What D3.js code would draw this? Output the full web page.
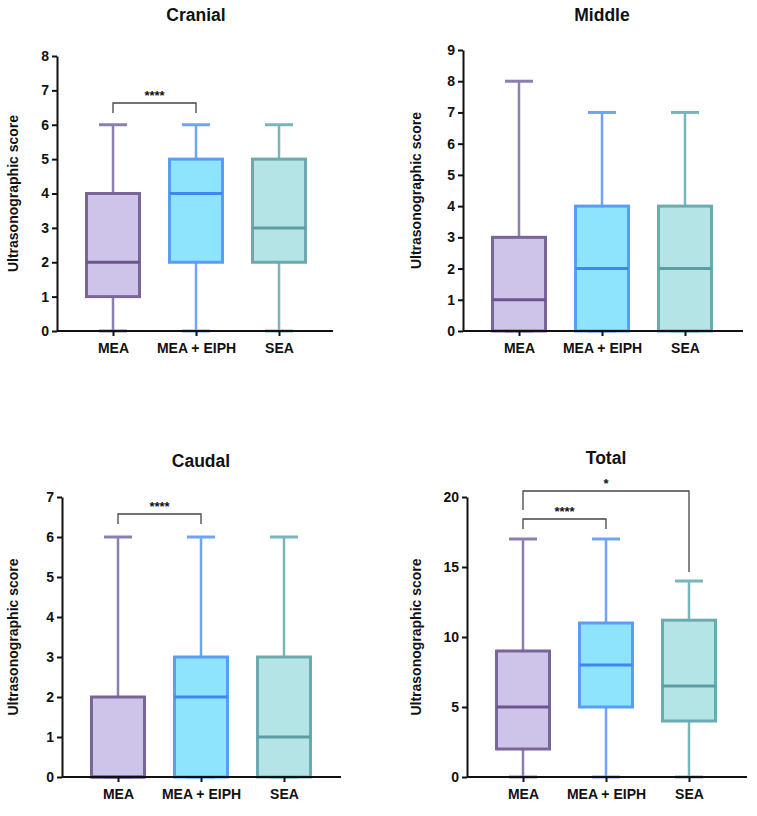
<!DOCTYPE html>
<html><head><meta charset="utf-8">
<script src="https://cdn.jsdelivr.net/npm/d3@7"></script>
<style>body{margin:0;background:#fff}svg{display:block}text{font-family:"Liberation Sans",Arial,sans-serif;font-weight:bold}</style>
</head><body>
<script>
const categories = ["MEA", "MEA + EIPH", "SEA"];
const panelTitles = ["Cranial", "Middle", "Caudal", "Total"];
// [min, q1, median, q3, max] per category
const cranial = [[0,1,2,4,6],[0,2,4,5,6],[0,2,3,5,6]];
const middle  = [[0,0,1,3,8],[0,0,2,4,7],[0,0,2,4,7]];
const caudal  = [[0,0,0,2,6],[0,0,2,3,6],[0,0,1,3,6]];
const total   = [[0,2,5,9,17],[0,5,8,11,17],[0,4,6.5,11.2,14]];
const yMaxes = [8, 9, 7, 20];
const yTicks = [[0,1,2,3,4,5,6,7,8],[0,1,2,3,4,5,6,7,8,9],[0,1,2,3,4,5,6,7],[0,5,10,15,20]];
// significance brackets: [fromIdx, toIdx, label]
const sigCranial = [[0,1,"****"]];
const sigCaudal = [[0,1,"****"]];
const sigTotal = [[0,1,"****"],[0,2,"*"]];
const yLabel = "Ultrasonographic score";

const fills = ["#cec3e8","#8ee3fd","#b4e4e6"];
const strokes = ["#7a6598","#5a9df5","#6aabb0"];
const medians = ["#6a5590","#3f86ee","#5a9ea4"];
const whiskers = ["#8c7fb0","#6ea3f5","#79b5ba"];

const W = 757, H = 816;
const svg = d3.select("body").append("svg").attr("width", W).attr("height", H);

const panels = [
  {data: cranial, ymax: yMaxes[0], ticks: yTicks[0], sig: sigCranial, x0: 57, x1: 333, yTop: 56, yBot: 331, titleY: 21, sigY: [103], labX: 18},
  {data: middle, ymax: yMaxes[1], ticks: yTicks[1], sig: [], x0: 463, x1: 743, yTop: 50, yBot: 331, titleY: 21, sigY: [], labX: 421},
  {data: caudal, ymax: yMaxes[2], ticks: yTicks[2], sig: sigCaudal, x0: 62, x1: 341, yTop: 497, yBot: 777, titleY: 467, sigY: [514], labX: 18},
  {data: total, ymax: yMaxes[3], ticks: yTicks[3], sig: sigTotal, x0: 467, x1: 747, yTop: 497, yBot: 777, titleY: 464, sigY: [519, 491], labX: 421}
];

panels.forEach((p, pi) => {
  const g = svg.append("g");
  const y = d3.scaleLinear().domain([0, p.ymax]).range([p.yBot, p.yTop]);
  const x = d3.scalePoint().domain(categories).range([p.x0 + 56, p.x0 + 56 + 2*83]);
  const boxW = 53, capW = 28;

  p.data.forEach((d, i) => {
    const cx = x(categories[i]);
    const [mn, q1, md, q3, mx] = d;
    g.append("line").attr("x1", cx).attr("x2", cx).attr("y1", y(mn)).attr("y2", y(mx))
      .attr("stroke", whiskers[i]).attr("stroke-width", 2.5);
    [mn, mx].forEach(v => g.append("line").attr("x1", cx - capW/2).attr("x2", cx + capW/2)
      .attr("y1", y(v)).attr("y2", y(v)).attr("stroke", whiskers[i]).attr("stroke-width", 3));
    g.append("rect").attr("x", cx - boxW/2).attr("width", boxW)
      .attr("y", y(q3)).attr("height", Math.max(0, y(q1) - y(q3)))
      .attr("fill", fills[i]).attr("stroke", strokes[i]).attr("stroke-width", 3);
    g.append("line").attr("x1", cx - boxW/2).attr("x2", cx + boxW/2).attr("y1", y(md)).attr("y2", y(md))
      .attr("stroke", medians[i]).attr("stroke-width", 3);
  });

  const ya = g.append("g").attr("transform", `translate(${p.x0},0)`)
    .call(d3.axisLeft(y).tickValues(p.ticks).tickFormat(d3.format("d")).tickSize(5).tickSizeOuter(0).tickPadding(3));
  ya.select(".domain").attr("stroke", "#111").attr("stroke-width", 2);
  ya.selectAll(".tick line").attr("stroke", "#111").attr("stroke-width", 2);
  ya.selectAll(".tick text").attr("fill", "#111").style("font-size", "14px").style("font-weight", "bold");

  const xa = g.append("g").attr("transform", `translate(0,${p.yBot})`)
    .call(d3.axisBottom(x).tickSize(5).tickSizeOuter(0).tickPadding(7));
  xa.select(".domain").attr("d", `M${p.x0},0H${p.x1}`).attr("stroke", "#111").attr("stroke-width", 2);
  xa.selectAll(".tick line").attr("stroke", "#111").attr("stroke-width", 2);
  xa.selectAll(".tick text").attr("fill", "#111").style("font-size", "14px").style("font-weight", "bold");

  g.append("text").attr("x", x(categories[1])).attr("y", p.titleY).attr("text-anchor", "middle")
    .style("font-size", "17.5px").attr("fill", "#111").text(panelTitles[pi]);

  g.append("text").attr("transform", `translate(${p.labX},${(p.yTop + p.yBot)/2}) rotate(-90)`)
    .attr("text-anchor", "middle").style("font-size", "14px").attr("fill", "#111").text(yLabel);

  p.sig.forEach((s, k) => {
    const [a, b, lab] = s;
    const xa1 = x(categories[a]), xb1 = x(categories[b]);
    const by = p.sigY[k];
    const endA = k === 0 ? by + 10 : p.sigY[0] - 9;
    const endB = k === 0 ? by + 10 : y(p.data[b][4]) - 9;
    g.append("path").attr("d", `M${xa1},${endA}V${by}H${xb1}V${endB}`)
      .attr("fill", "none").attr("stroke", "#444").attr("stroke-width", 1.3);
    g.append("text").attr("x", (xa1 + xb1)/2).attr("y", by - 3).attr("text-anchor", "middle")
      .style("font-size", "13px").attr("fill", "#111").text(lab);
  });
});
</script>
</body></html>
